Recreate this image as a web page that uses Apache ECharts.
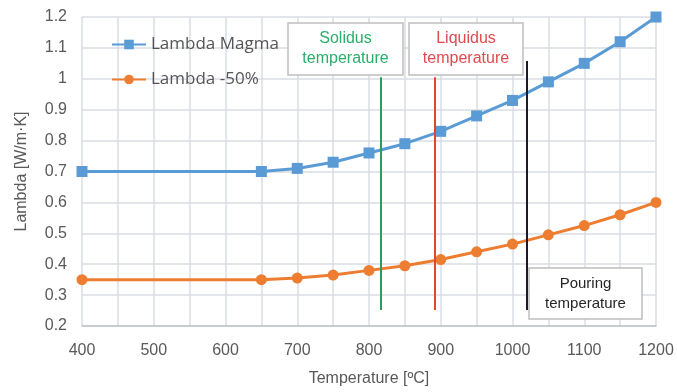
<!DOCTYPE html>
<html>
<head>
<meta charset="utf-8">
<script src="https://cdn.jsdelivr.net/npm/echarts@6/dist/echarts.min.js"></script>
<style>
  html, body { margin: 0; padding: 0; background: #ffffff; }
  #chart { width: 677px; height: 392px; }
</style>
</head>
<body>
<div id="chart"></div>
<script>
// Temperature samples (°C)
const temperatures = [400, 650, 700, 750, 800, 850, 900, 950, 1000, 1050, 1100, 1150, 1200];
// Thermal conductivity of the magma (W/m·K)
const lambdaMagma = [0.70, 0.70, 0.71, 0.73, 0.76, 0.79, 0.83, 0.88, 0.93, 0.99, 1.05, 1.12, 1.20];
// Same conductivity reduced by half
const lambdaHalf = [0.35, 0.35, 0.355, 0.365, 0.38, 0.395, 0.415, 0.44, 0.465, 0.495, 0.525, 0.56, 0.60];

// Characteristic temperatures drawn as vertical marker lines
const markerNames = ['Solidus temperature', 'Liquidus temperature', 'Pouring temperature'];
const markerTemps = [816, 892, 1020];
const markerTops = [1.005, 1.005, 1.058];
const markerBottom = 0.252;

const seriesNames = ['Lambda Magma', 'Lambda -50%'];
const axisFont = 'Liberation Sans, Arial, sans-serif';
const markerColors = ['#2a9d5c', '#e0452e', '#1c1a2a'];

const chart = echarts.init(document.getElementById('chart'), null, { renderer: 'canvas' });

const markerLines = markerTemps.map((t, i) => [
  { coord: [t, markerBottom], lineStyle: { color: markerColors[i], width: 2, type: 'solid' } },
  { coord: [t, markerTops[i]] }
]);

chart.setOption({
  backgroundColor: '#ffffff',
  animation: false,
  grid: { left: 82, right: 21, top: 17, bottom: 66, containLabel: false, outerBoundsMode: 'none' },
  legend: {
    orient: 'vertical',
    left: 106,
    top: 31,
    itemGap: 18,
    itemWidth: 34,
    itemHeight: 12,
    textStyle: { fontFamily: 'Open Sans, sans-serif', fontSize: 17, color: '#555555' },
    data: seriesNames
  },
  xAxis: {
    type: 'value',
    min: 400,
    max: 1200,
    interval: 50,
    name: 'Temperature [ºC]',
    nameLocation: 'middle',
    nameGap: 45,
    nameTextStyle: { fontFamily: axisFont, fontSize: 16, color: '#595959' },
    axisLine: { show: true, lineStyle: { color: '#bfc3c9', width: 1.5 } },
    axisTick: { show: false },
    axisLabel: {
      margin: 17,
      fontFamily: axisFont,
      fontSize: 16,
      color: '#595959',
      formatter: v => (v % 100 === 0 ? String(v) : '')
    },
    splitLine: { show: true, lineStyle: { color: '#d9dde3', width: 1.5 } }
  },
  yAxis: {
    type: 'value',
    min: 0.2,
    max: 1.2,
    interval: 0.1,
    name: 'Lambda [W/m·K]',
    nameLocation: 'middle',
    nameRotate: 90,
    nameGap: 52,
    nameTextStyle: { fontFamily: axisFont, fontSize: 16, color: '#595959' },
    axisLine: { show: false },
    axisTick: { show: false },
    axisLabel: {
      margin: 15,
      fontFamily: axisFont,
      fontSize: 16,
      color: '#595959',
      formatter: v => String(Math.round(v * 10) / 10)
    },
    splitLine: { show: true, lineStyle: { color: '#d9dde3', width: 1.5 } }
  },
  series: [
    {
      name: seriesNames[0],
      type: 'line',
      data: temperatures.map((t, i) => [t, lambdaMagma[i]]),
      symbol: 'rect',
      symbolSize: 11,
      z: 4,
      itemStyle: { color: '#5b9bd5' },
      lineStyle: { color: '#5b9bd5', width: 3 },
      markLine: {
        silent: true,
        symbol: ['none', 'none'],
        label: { show: false },
        data: markerLines
      }
    },
    {
      name: seriesNames[1],
      type: 'line',
      data: temperatures.map((t, i) => [t, lambdaHalf[i]]),
      symbol: 'circle',
      symbolSize: 11,
      z: 4,
      itemStyle: { color: '#ed7d31' },
      lineStyle: { color: '#ed7d31', width: 3 }
    }
  ]
});

// Text boxes naming each marker line
const boxSpecs = [
  { x: 288, y: 23, w: 115, h: 52 },
  { x: 409, y: 23, w: 114, h: 52 },
  { x: 529, y: 268, w: 113, h: 51 }
];
const boxTextColors = ['#2aae6a', '#e04a4f', '#262626'];
const boxFontSizes = [16, 16, 15];

chart.setOption({
  graphic: boxSpecs.map((b, i) => ({
    type: 'group',
    x: b.x,
    y: b.y,
    z: 100,
    children: [
      {
        type: 'rect',
        shape: { x: 0, y: 0, width: b.w, height: b.h },
        style: { fill: '#ffffff', stroke: '#bfbfbf', lineWidth: 1.5 }
      },
      {
        type: 'text',
        x: b.w / 2,
        y: b.h / 2,
        style: {
          text: markerNames[i].replace(' ', '\n'),
          fill: boxTextColors[i],
          font: boxFontSizes[i] + 'px ' + axisFont,
          align: 'center',
          verticalAlign: 'middle',
          lineHeight: 20
        }
      }
    ]
  }))
});
</script>
</body>
</html>
